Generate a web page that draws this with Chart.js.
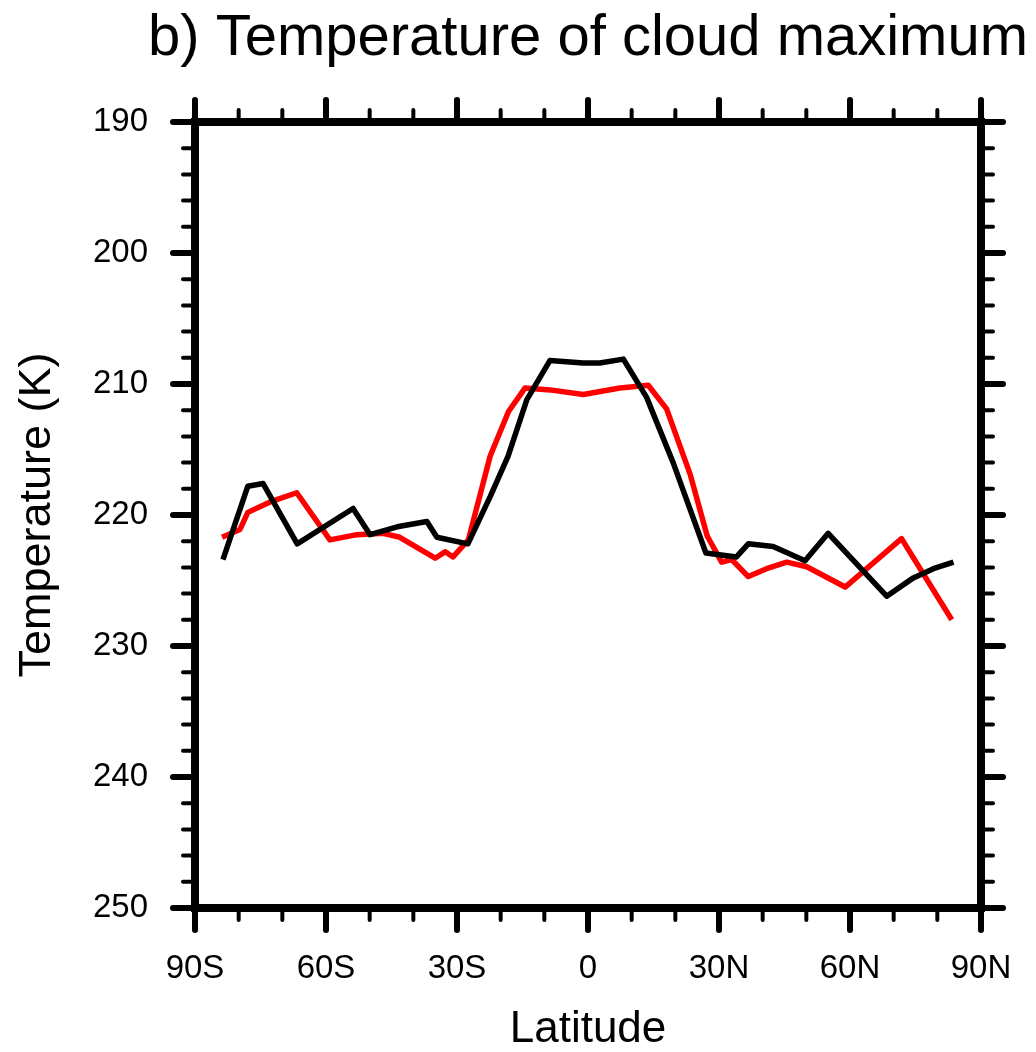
<!DOCTYPE html>
<html>
<head>
<meta charset="utf-8">
<title>Temperature of cloud maximum</title>
<script src="https://cdn.jsdelivr.net/npm/chart.js@4.4.1/dist/chart.umd.min.js"></script>
<style>
  html, body { margin: 0; padding: 0; background: #fff; }
  canvas { display: block; }
</style>
</head>
<body>
<canvas id="cloudTempChart"></canvas>
<script>
// zonal mean temperature at the cloud maximum, two runs
const blackLat  = [-83.6, -77.9, -74.4, -66.6, -53.8, -49.9, -43.7, -36.9, -34.6, -27.5,
                   -22.4, -18.3, -14.0, -8.7, -1.1, 2.7, 8.1, 13.4, 19.5, 27.0,
                   34.0, 36.7, 42.4, 49.7, 55.0, 68.4, 74.5, 79.1, 83.7];
const blackTemp = [223.4, 217.8, 217.6, 222.2, 219.5, 221.5, 220.9, 220.5, 221.7, 222.2,
                   218.6, 215.5, 211.2, 208.2, 208.4, 208.4, 208.1, 211.0, 216.0, 222.9,
                   223.2, 222.2, 222.4, 223.5, 221.4, 226.2, 224.8, 224.1, 223.6];

const redLat  = [-83.8, -79.7, -77.9, -72.8, -66.7, -59.1, -52.9, -46.9, -43.1, -35.0,
                 -32.7, -30.9, -27.4, -22.4, -18.2, -14.4, -8.7, -1.1, 7.3, 13.8,
                 18.0, 23.4, 27.3, 30.6, 32.9, 36.7, 40.9, 45.5, 50.1, 58.9,
                 71.8, 83.3];
const redTemp = [221.7, 221.1, 219.8, 219.0, 218.3, 221.9, 221.5, 221.4, 221.7, 223.3,
                 222.8, 223.2, 221.9, 215.5, 212.1, 210.3, 210.45, 210.8, 210.3, 210.1,
                 211.9, 216.9, 221.6, 223.6, 223.4, 224.7, 224.1, 223.6, 223.95, 225.5,
                 221.8, 228.0];

const latTickLabels = { '-90': '90S', '-60': '60S', '-30': '30S', '0': '0', '30': '30N', '60': '60N', '90': '90N' };
const tempTickLabels = [190, 200, 210, 220, 230, 240, 250];

const chartTitle = 'b) Temperature of cloud maximum';
const FONT = '"Liberation Sans", Arial, Helvetica, sans-serif';

function toPoints(xs, ys) {
    return xs.map((v, i) => ({ x: v, y: ys[i] }));
}

// title is wider than the plot, so draw it centred over the plot without squeezing
const plotTitlePlugin = {
    id: 'plotTitle',
    afterDraw(chart) {
        const { ctx, chartArea: a } = chart;
        ctx.save();
        ctx.fillStyle = '#000';
        ctx.font = '58px ' + FONT;
        ctx.textAlign = 'center';
        ctx.textBaseline = 'alphabetic';
        ctx.fillText(chartTitle, (a.left + a.right) / 2, 54.5);
        ctx.restore();
    }
};

// NCL-style frame: thick border, outward major/minor ticks on all four sides
const frameTicksPlugin = {
    id: 'frameTicks',
    afterDraw(chart) {
        const { ctx, chartArea: a, scales: { x, y } } = chart;
        const seg = (x1, y1, x2, y2) => {
            ctx.beginPath();
            ctx.moveTo(x1, y1);
            ctx.lineTo(x2, y2);
            ctx.stroke();
        };
        ctx.save();
        ctx.strokeStyle = '#000';
        ctx.lineCap = 'round';

        x.ticks.forEach(t => {
            const px = x.getPixelForValue(t.value);
            const major = t.value % 30 === 0;
            const len = major ? 22 : 12;
            ctx.lineWidth = major ? 6 : 4;
            seg(px, a.bottom, px, a.bottom + len);
            seg(px, a.top, px, a.top - len);
        });

        y.ticks.forEach(t => {
            const py = y.getPixelForValue(t.value);
            const major = t.value % 10 === 0;
            const len = major ? 22 : 12;
            ctx.lineWidth = major ? 6 : 4;
            seg(a.left, py, a.left - len, py);
            seg(a.right, py, a.right + len, py);
        });

        ctx.lineCap = 'butt';
        ctx.lineJoin = 'miter';
        ctx.lineWidth = 8;
        ctx.strokeRect(a.left, a.top, a.right - a.left, a.bottom - a.top);
        ctx.restore();
    }
};

document.addEventListener('DOMContentLoaded', function() {
    const canvas = document.getElementById('cloudTempChart');
    canvas.width = 1036;
    canvas.height = 1052;
    canvas.style.width = '1036px';
    canvas.style.height = '1052px';

    new Chart(canvas, {
        type: 'line',
        data: {
            datasets: [
                {
                    data: toPoints(blackLat, blackTemp),
                    borderColor: '#000000',
                    borderWidth: 5.5,
                    pointRadius: 0,
                    tension: 0,
                    borderJoinStyle: 'round'
                },
                {
                    data: toPoints(redLat, redTemp),
                    borderColor: '#ff0000',
                    borderWidth: 5.5,
                    pointRadius: 0,
                    tension: 0,
                    borderJoinStyle: 'round'
                }
            ]
        },
        options: {
            responsive: false,
            maintainAspectRatio: false,
            animation: false,
            layout: { padding: { left: 0, right: 55, top: 122, bottom: 0 } },
            plugins: {
                legend: { display: false },
                tooltip: { enabled: false },
                title: { display: false }
            },
            scales: {
                x: {
                    type: 'linear',
                    min: -90,
                    max: 90,
                    grid: { display: false, drawTicks: false },
                    border: { display: false },
                    afterFit(scale) {
                        scale.height = 144;
                        // the big label padding would otherwise eat into the plot width
                        scale.paddingLeft = 0;
                        scale.paddingRight = 0;
                    },
                    ticks: {
                        stepSize: 10,
                        autoSkip: false,
                        maxRotation: 0,
                        padding: 44.5,
                        color: '#000',
                        font: { family: FONT, size: 33, lineHeight: 1 },
                        callback: v => latTickLabels[String(v)] || ''
                    },
                    title: {
                        display: true,
                        text: 'Latitude',
                        color: '#000',
                        font: { family: FONT, size: 44, lineHeight: 1 },
                        padding: { top: 0, bottom: 0 }
                    }
                },
                y: {
                    type: 'linear',
                    reverse: true,
                    min: 190,
                    max: 250,
                    grid: { display: false, drawTicks: false },
                    border: { display: false },
                    afterFit(scale) { scale.width = 195; },
                    ticks: {
                        stepSize: 2,
                        autoSkip: false,
                        padding: 47,
                        color: '#000',
                        font: { family: FONT, size: 33, lineHeight: 1 },
                        callback: v => tempTickLabels.includes(v) ? String(v) : ''
                    },
                    title: {
                        display: true,
                        text: 'Temperature (K)',
                        color: '#000',
                        font: { family: FONT, size: 45, lineHeight: 1 },
                        padding: { top: 15, bottom: 0 }
                    }
                }
            }
        },
        plugins: [frameTicksPlugin, plotTitlePlugin]
    });
});
</script>
</body>
</html>
